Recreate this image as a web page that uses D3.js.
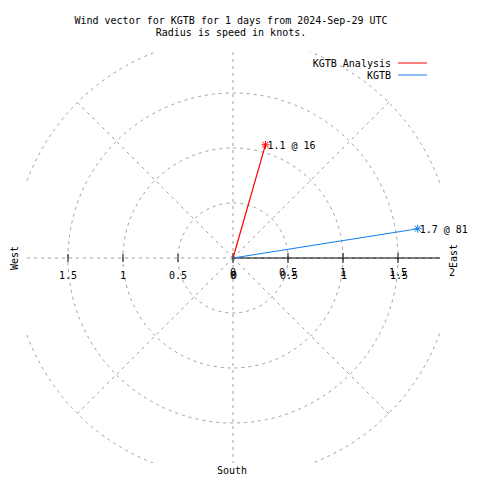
<!DOCTYPE html>
<html><head><meta charset="utf-8">
<script src="https://cdn.jsdelivr.net/npm/d3@7"></script>
<style>html,body{margin:0;padding:0;background:#fff;}svg{display:block;}text{font-family:"DejaVu Sans Mono",monospace;font-size:10px;fill:#000;}</style>
</head><body><div id="chart"></div>
<script>
const titleLines = ["Wind vector for KGTB for 1 days from 2024-Sep-29 UTC", "Radius is speed in knots."];
const seriesNames = ["KGTB Analysis", "KGTB"];
const seriesColors = ["#ff0000", "#1580ee"];
const speeds = [1.07, 1.70];
const directions = [16, 81];
const vecLabels = ["1.1 @ 16", "1.7 @ 81"];
const radialTicks = [0, 0.5, 1, 1.5];
const rightTickLabels = ["0", "0.5", "1", "1.5", "2"];
const leftTickLabels = ["1.5", "1", "0.5", "0"];
const circleRadii = [0.5, 1, 1.5, 2];
const spokeAngles = [0, 45, 90, 135, 180, 225, 270, 315];

const W = 480, H = 480, cx = 233, cy = 258;
const svg = d3.select("#chart").append("svg").attr("width", W).attr("height", H);
const r = d3.scaleLinear().domain([0, 2]).range([0, 220]);
const x = d3.scaleLinear().domain([-2, 2]).range([cx - 220, cx + 220]);
const y = d3.scaleLinear().domain([-2, 2]).range([cy + 220, cy - 220]);

svg.append("defs").append("clipPath").attr("id", "clip")
  .append("rect").attr("x", 26).attr("y", 52).attr("width", 414).attr("height", 411);

const g = svg.append("g").attr("clip-path", "url(#clip)");
const grid = "#a0a0a0";
g.selectAll("circle.grid").data(circleRadii).enter().append("circle")
  .attr("cx", cx).attr("cy", cy).attr("r", d => r(d))
  .attr("fill", "none").attr("stroke", grid).attr("stroke-dasharray", "3,4");
g.selectAll("line.spoke").data(spokeAngles).enter().append("line")
  .attr("x1", cx).attr("y1", cy)
  .attr("x2", d => x(2 * Math.cos(d * Math.PI / 180)))
  .attr("y2", d => y(2 * Math.sin(d * Math.PI / 180)))
  .attr("stroke", grid).attr("stroke-dasharray", "3,4");
// solid r axis
g.append("line").attr("x1", x(0)).attr("x2", x(2)).attr("y1", cy).attr("y2", cy)
  .attr("stroke", "#000");
// ticks right
g.selectAll("line.rt").data(radialTicks).enter().append("line")
  .attr("x1", d => x(d)).attr("x2", d => x(d)).attr("y1", cy - 5).attr("y2", cy + 5)
  .attr("stroke", "#000");
// ticks left
g.selectAll("line.lt").data(radialTicks.slice(1)).enter().append("line")
  .attr("x1", d => x(-d)).attr("x2", d => x(-d)).attr("y1", cy - 4).attr("y2", cy + 4)
  .attr("stroke", "#000");

// tick labels right (doubled, slightly offset as in reference)
rightTickLabels.forEach((t, i) => {
  const v = +t;
  const xx = x(v) + (v === 2 ? 0 : 0);
  if (v < 2) {
    svg.append("text").attr("x", xx).attr("y", 276).attr("text-anchor", "middle").text(t);
    svg.append("text").attr("x", xx + 1).attr("y", 279).attr("text-anchor", "middle").text(t);
  } else {
    svg.append("text").attr("x", xx - 1).attr("y", 276).attr("text-anchor", "middle").text(t);
  }
});
leftTickLabels.forEach(t => {
  const v = +t;
  svg.append("text").attr("x", x(-v)).attr("y", 279).attr("text-anchor", "middle").text(t);
});

// vectors
speeds.forEach((s, i) => {
  const a = directions[i] * Math.PI / 180;
  const px = x(s * Math.sin(a)), py = y(s * Math.cos(a));
  svg.append("line").attr("x1", cx).attr("y1", cy).attr("x2", px).attr("y2", py)
    .attr("stroke", seriesColors[i]).attr("stroke-width", 1.2);
  const m = svg.append("g").attr("transform", `translate(${px},${py})`)
    .attr("stroke", seriesColors[i]).attr("stroke-width", 1);
  m.append("line").attr("x1", -4).attr("x2", 4).attr("y1", 0).attr("y2", 0);
  m.append("line").attr("x1", 0).attr("x2", 0).attr("y1", -4).attr("y2", 4);
  m.append("line").attr("x1", -3).attr("x2", 3).attr("y1", -3).attr("y2", 3);
  m.append("line").attr("x1", -3).attr("x2", 3).attr("y1", 3).attr("y2", -3);
  svg.append("text").attr("x", px + 2).attr("y", py + 4).text(vecLabels[i]);
});

// title
titleLines.forEach((t, i) => {
  svg.append("text").attr("x", 231).attr("y", 24 + i * 12).attr("text-anchor", "middle").text(t);
});
// legend
seriesNames.forEach((n, i) => {
  const ly = 63 + i * 12;
  svg.append("text").attr("x", 391).attr("y", ly + 3.5).attr("text-anchor", "end").text(n);
  svg.append("line").attr("x1", 398).attr("x2", 427).attr("y1", ly).attr("y2", ly)
    .attr("stroke", seriesColors[i]);
});
// direction labels
svg.append("text").attr("transform", "translate(18,258) rotate(-90)").attr("text-anchor", "middle").text("West");
svg.append("text").attr("transform", "translate(457,256) rotate(-90)").attr("text-anchor", "middle").text("East");
svg.append("text").attr("x", 232).attr("y", 474).attr("text-anchor", "middle").text("South");
</script></body></html>
